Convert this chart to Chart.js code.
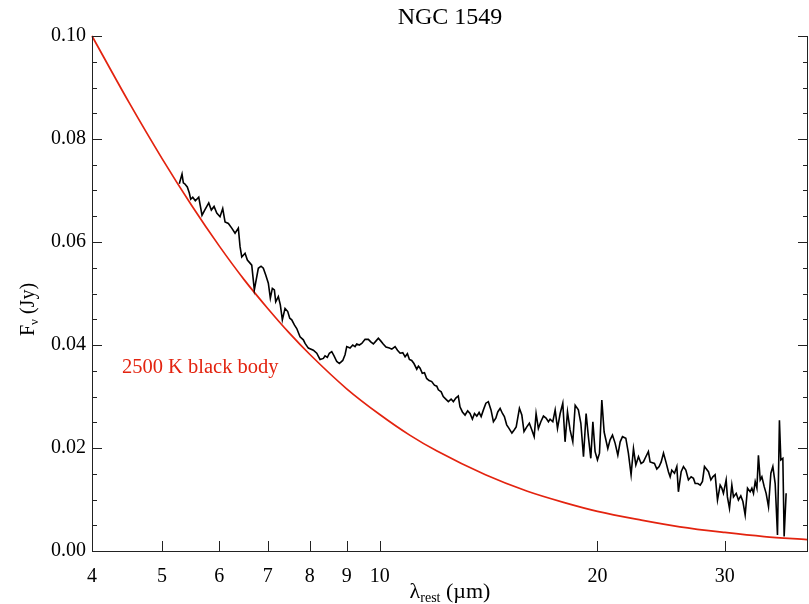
<!DOCTYPE html>
<html>
<head>
<meta charset="utf-8">
<script src="https://cdn.jsdelivr.net/npm/chart.js@4"></script>
<style>
html,body{margin:0;padding:0;background:#fff;}
#wrap{width:809px;height:604px;position:relative;}
</style>
</head>
<body>
<div id="wrap"><canvas id="c" width="809" height="604"></canvas></div>
<script>
const chartTitle = "NGC 1549";
const xTickValues = [4, 5, 6, 7, 8, 9, 10, 20, 30];
const yTickValues = [0.00, 0.02, 0.04, 0.06, 0.08, 0.10];
const bbLabel = "2500 K black body";

// NGC 1549 spectrum (wavelength in micron, flux in Jy)
const specLam = [5.282,5.328,5.350,5.374,5.418,5.453,5.477,5.513,5.558,5.619,5.678,5.727,5.801,5.849,5.900,5.951,6.013,6.065,6.110,6.175,6.242,6.308,6.374,6.409,6.444,6.512,6.560,6.616,6.652,6.707,6.793,6.852,6.902,6.955,7.013,7.058,7.103,7.149,7.180,7.240,7.286,7.333,7.396,7.460,7.508,7.556,7.619,7.677,7.758,7.840,7.883,7.966,8.094,8.182,8.268,8.356,8.401,8.463,8.517,8.582,8.645,8.720,8.792,8.888,8.953,9.002,9.097,9.176,9.243,9.293,9.370,9.443,9.542,9.643,9.717,9.798,9.883,9.955,10.03,10.11,10.20,10.31,10.39,10.50,10.58,10.67,10.76,10.84,10.92,10.99,11.07,11.15,11.25,11.31,11.37,11.45,11.53,11.61,11.70,11.80,11.90,11.99,12.05,12.16,12.24,12.34,12.44,12.55,12.64,12.74,12.84,12.91,13.01,13.12,13.23,13.33,13.43,13.52,13.62,13.72,13.81,13.91,14.02,14.13,14.25,14.36,14.47,14.56,14.67,14.78,14.87,14.98,15.09,15.23,15.34,15.44,15.60,15.72,15.83,15.97,16.10,16.23,16.35,16.45,16.57,16.70,16.84,16.98,17.11,17.20,17.35,17.48,17.61,17.76,17.91,18.04,18.18,18.33,18.49,18.63,18.82,18.97,19.13,19.29,19.43,19.58,19.71,19.85,20.00,20.13,20.28,20.43,20.67,20.82,20.98,21.16,21.34,21.50,21.66,21.89,22.07,22.26,22.43,22.60,22.79,22.98,23.15,23.33,23.52,23.65,23.98,24.16,24.34,24.50,24.68,24.87,25.07,25.21,25.34,25.56,25.75,25.88,26.11,26.30,26.50,26.72,26.95,27.15,27.30,27.53,27.74,27.94,28.12,28.48,28.70,28.88,29.09,29.31,29.56,29.72,29.87,30.13,30.25,30.45,30.68,30.84,31.11,31.33,31.57,31.78,32.01,32.25,32.52,32.70,32.87,33.05,33.23,33.39,33.58,33.76,34.01,34.22,34.48,34.74,34.96,35.22,35.48,35.70,35.86,36.09,36.24,36.47];
const specFlux = [0.0713,0.0732,0.0715,0.0713,0.0707,0.0695,0.0683,0.0687,0.0680,0.0687,0.0652,0.0662,0.0676,0.0662,0.0669,0.0656,0.0649,0.0665,0.0639,0.0636,0.0627,0.0617,0.0627,0.0591,0.0571,0.0578,0.0565,0.0559,0.0555,0.0507,0.0549,0.0553,0.0549,0.0536,0.0520,0.0491,0.0510,0.0507,0.0484,0.0494,0.0478,0.0449,0.0471,0.0465,0.0452,0.0449,0.0439,0.0432,0.0416,0.0410,0.0403,0.0394,0.0390,0.0384,0.0372,0.0374,0.0379,0.0376,0.0384,0.0387,0.0379,0.0368,0.0364,0.0370,0.0381,0.0397,0.0394,0.0400,0.0397,0.0402,0.0400,0.0403,0.0411,0.0411,0.0406,0.0402,0.0408,0.0413,0.0408,0.0402,0.0396,0.0394,0.0392,0.0397,0.0390,0.0384,0.0385,0.0377,0.0383,0.0372,0.0370,0.0364,0.0353,0.0359,0.0355,0.0345,0.0346,0.0335,0.0331,0.0329,0.0322,0.0320,0.0313,0.0309,0.0300,0.0295,0.0290,0.0295,0.0290,0.0297,0.0301,0.0280,0.0270,0.0264,0.0272,0.0267,0.0256,0.0267,0.0262,0.0269,0.0261,0.0274,0.0287,0.0290,0.0274,0.0251,0.0258,0.0270,0.0277,0.0267,0.0261,0.0245,0.0238,0.0229,0.0235,0.0241,0.0277,0.0264,0.0232,0.0241,0.0248,0.0235,0.0222,0.0267,0.0238,0.0251,0.0262,0.0258,0.0251,0.0256,0.0251,0.0274,0.0238,0.0267,0.0287,0.0212,0.0270,0.0235,0.0212,0.0283,0.0274,0.0248,0.0183,0.0267,0.0222,0.0180,0.0251,0.0193,0.0177,0.0190,0.0293,0.0231,0.0199,0.0216,0.0225,0.0209,0.0186,0.0212,0.0222,0.0219,0.0190,0.0148,0.0199,0.0167,0.0183,0.0170,0.0173,0.0183,0.0193,0.0173,0.0170,0.0159,0.0164,0.0173,0.0190,0.0173,0.0154,0.0144,0.0157,0.0151,0.0164,0.0115,0.0154,0.0164,0.0157,0.0138,0.0144,0.0141,0.0131,0.0131,0.0128,0.0135,0.0164,0.0154,0.0138,0.0144,0.0148,0.0099,0.0128,0.0122,0.0112,0.0138,0.0105,0.0083,0.0128,0.0105,0.0112,0.0099,0.0107,0.0096,0.0070,0.0122,0.0115,0.0122,0.0112,0.0135,0.0122,0.0186,0.0138,0.0144,0.0125,0.0112,0.0086,0.0151,0.0164,0.0131,0.0031,0.0254,0.0177,0.0180,0.0028,0.0112];

// 2500 K black body curve
const bbLam  = [4.0, 4.5, 5.0, 5.5, 6.0, 6.5, 7.0, 7.5, 8.0, 9.0, 10.0, 11.0, 12.0, 14.0, 16.0, 18.0, 20.0, 23.0, 26.0, 30.0, 34.0, 39.0];
const bbFlux = [0.1000, 0.0871, 0.0762, 0.0670, 0.0592, 0.0526, 0.0471, 0.0423, 0.0382, 0.0315, 0.0265, 0.0225, 0.0194, 0.0148, 0.0116, 0.0094, 0.0077, 0.0060, 0.0047, 0.0036, 0.0028, 0.0022];

const xMin = 4, xMax = 39.1, yMin = 0, yMax = 0.10;

const specPts = specLam.map((l, i) => ({x: l, y: specFlux[i]}));
const bbPts = bbLam.map((l, i) => ({x: l, y: bbFlux[i]}));

const SERIF = "'Liberation Serif', 'DejaVu Serif', serif";
const AXIS_COLOR = '#222';
const RED = '#e3230f';

const decorPlugin = {
  id: 'decor',
  afterDraw(chart) {
    const ctx = chart.ctx;
    const a = chart.chartArea;
    const xs = chart.scales.x, ys = chart.scales.y;
    ctx.save();
    // frame
    ctx.strokeStyle = AXIS_COLOR;
    ctx.lineWidth = 1;
    ctx.beginPath();
    ctx.moveTo(a.left + 0.5, a.top);
    ctx.lineTo(a.left + 0.5, a.bottom + 0.5);
    ctx.lineTo(a.right - 0.5, a.bottom + 0.5);
    ctx.lineTo(a.right - 0.5, a.top);
    ctx.stroke();
    // x ticks (inward, bottom)
    ctx.beginPath();
    xTickValues.forEach(v => {
      const px = Math.round(xs.getPixelForValue(v)) + 0.5;
      ctx.moveTo(px, a.bottom);
      ctx.lineTo(px, a.bottom - 10);
    });
    // y ticks major and minor, left and right
    for (let k = 0; k <= 20; k++) {
      const v = yMin + k * 0.005;
      const py = Math.round(ys.getPixelForValue(v)) + 0.5;
      const len = (k % 4 === 0) ? 10 : 5;
      ctx.moveTo(a.left, py); ctx.lineTo(a.left + len, py);
      ctx.moveTo(a.right, py); ctx.lineTo(a.right - len, py);
    }
    ctx.stroke();

    // title
    ctx.fillStyle = '#000';
    ctx.font = '24px ' + SERIF;
    ctx.textAlign = 'center';
    ctx.textBaseline = 'middle';
    ctx.fillText(chartTitle, (a.left + a.right) / 2, 18);

    // x axis title: λ_rest (µm)
    const xc = (a.left + a.right) / 2;
    const yb = 598;
    ctx.textBaseline = 'alphabetic';
    ctx.textAlign = 'left';
    const bigF = '22px ' + SERIF, smallF = '14px ' + SERIF;
    ctx.font = bigF; const w1 = ctx.measureText('λ').width;
    ctx.font = smallF; const w2 = ctx.measureText('rest').width;
    ctx.font = bigF; const w3 = ctx.measureText(' (µm)').width;
    let sx = xc - (w1 + w2 + w3) / 2;
    ctx.font = bigF; ctx.fillText('λ', sx, yb); sx += w1;
    ctx.font = smallF; ctx.fillText('rest', sx, yb + 4); sx += w2;
    ctx.font = bigF; ctx.fillText(' (µm)', sx, yb);

    // y axis title: F_ν (Jy)
    ctx.save();
    ctx.translate(34, (a.top + a.bottom) / 2 + 16);
    ctx.rotate(-Math.PI / 2);
    const bigY = '20px ' + SERIF, smallY = '13px ' + SERIF;
    ctx.font = bigY; const v1 = ctx.measureText('F').width;
    ctx.font = smallY; const v2 = ctx.measureText('ν').width;
    ctx.font = bigY; const v3 = ctx.measureText(' (Jy)').width;
    let sy = -(v1 + v2 + v3) / 2;
    ctx.font = bigY; ctx.fillText('F', sy, 0); sy += v1;
    ctx.font = smallY; ctx.fillText('ν', sy, 4); sy += v2;
    ctx.font = bigY; ctx.fillText(' (Jy)', sy, 0);
    ctx.restore();

    // black body label
    ctx.fillStyle = RED;
    ctx.font = '20.5px ' + SERIF;
    ctx.textAlign = 'left';
    ctx.textBaseline = 'middle';
    ctx.fillText(bbLabel, xs.getPixelForValue(4.40), ys.getPixelForValue(0.0357));
    ctx.restore();
  }
};

new Chart(document.getElementById('c'), {
  type: 'scatter',
  data: {
    datasets: [
      { label: 'spectrum', data: specPts, showLine: true, borderColor: '#000', borderWidth: 1.6,
        pointRadius: 0, tension: 0, fill: false, order: 1 },
      { label: bbLabel, data: bbPts, showLine: true, borderColor: RED, borderWidth: 1.7,
        pointRadius: 0, cubicInterpolationMode: 'monotone', fill: false, order: 2 }
    ]
  },
  options: {
    responsive: false,
    animation: false,
    devicePixelRatio: 1,
    clip: false,
    layout: { padding: { top: 36, right: 1, left: 0, bottom: 0 } },
    plugins: { legend: { display: false }, tooltip: { enabled: false }, title: { display: false } },
    scales: {
      x: {
        type: 'logarithmic', min: xMin, max: xMax,
        grid: { display: false, drawTicks: false },
        border: { display: false },
        afterBuildTicks: s => { s.ticks = xTickValues.map(v => ({ value: v })); },
        afterFit: s => { s.height = 53; },
        ticks: { color: '#000', font: { family: SERIF, size: 20 }, padding: 14, maxRotation: 0, autoSkip: false,
                 callback: v => String(v) }
      },
      y: {
        min: yMin, max: yMax,
        grid: { display: false, drawTicks: false },
        border: { display: false },
        afterBuildTicks: s => { s.ticks = yTickValues.map(v => ({ value: v })); },
        afterFit: s => { s.width = 92; },
        ticks: { color: '#000', font: { family: SERIF, size: 20 }, padding: 6,
                 callback: v => Number(v).toFixed(2) }
      }
    }
  },
  plugins: [decorPlugin]
});
</script>
</body>
</html>
